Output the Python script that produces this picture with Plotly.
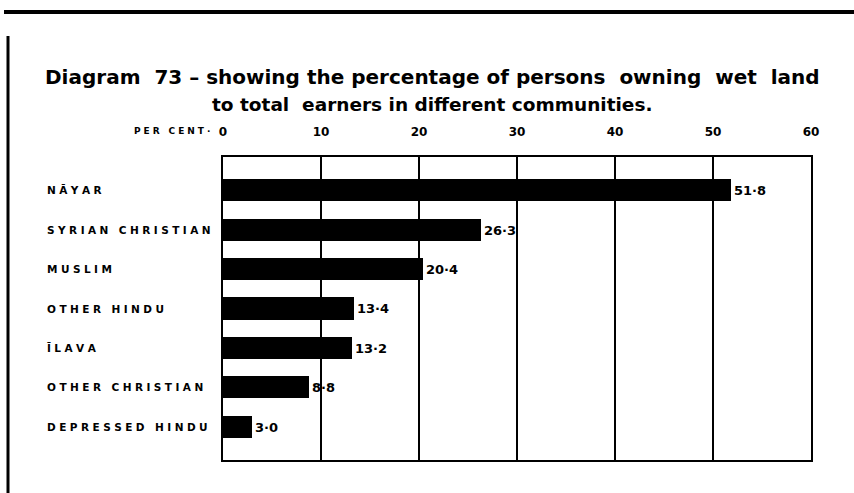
import plotly.graph_objects as go

# Communities and share of earners owning wet land (per cent)
communities = ["NĀYAR", "SYRIAN CHRISTIAN", "MUSLIM", "OTHER HINDU",
               "ĪLAVA", "OTHER CHRISTIAN", "DEPRESSED HINDU"]
percent = [51.8, 26.3, 20.4, 13.4, 13.2, 8.8, 3.0]
value_labels = ["51·8", "26·3", "20·4", "13·4", "13·2", "8·8", "3·0"]
tick_values = [0, 10, 20, 30, 40, 50, 60]
tick_labels = ["0", "10", "20", "30", "40", "50", "60"]

W, H = 854, 493
L, R, T, B = 223, 43, 157, 33
pw, ph = W - L - R, H - T - B

HEAVY = "DejaVu Sans"
WIDE = "DejaVu Sans"


def px_x(x):
    return (x - L) / pw


def px_y(y):
    return (H - B - y) / ph


def spaced(s):
    # letter-spaced capitals for the row names
    return "\u2004".join(s).replace("\u2004 \u2004", "\u2003")


fig = go.Figure()
fig.add_trace(go.Bar(
    x=percent, y=list(range(len(communities))), orientation="h",
    marker=dict(color="black", line=dict(width=0)),
    width=0.56,
    text=["<b>" + v + "</b>" for v in value_labels],
    textposition="outside", cliponaxis=False,
    textfont=dict(family=HEAVY, size=13, color="black"),
    hoverinfo="skip",
))

annotations = [
    dict(text="<b>Diagram  73 – showing the percentage of persons  owning  wet  land</b>",
         x=px_x(432), y=px_y(77), xref="paper", yref="paper", yanchor="middle",
         showarrow=False, font=dict(family=HEAVY, size=20, color="black")),
    dict(text="<b>to total  earners in different communities.</b>",
         x=px_x(432), y=px_y(104), xref="paper", yref="paper", yanchor="middle",
         showarrow=False, font=dict(family=HEAVY, size=18.5, color="black")),
    dict(text="<b>" + spaced("PER CENT·") + "</b>", x=px_x(212), y=px_y(131),
         xref="paper", yref="paper", xanchor="right", yanchor="middle",
         showarrow=False, font=dict(family=WIDE, size=9, color="black")),
]
for i, name in enumerate(communities):
    annotations.append(dict(
        text="<b>" + spaced(name) + "</b>",
        x=px_x(45), y=i, xref="paper", yref="y", xanchor="left", yanchor="middle",
        showarrow=False, font=dict(family=WIDE, size=10.5, color="black")))

shapes = [
    # heavy rule along the top of the page
    dict(type="line", xref="paper", yref="paper",
         x0=px_x(4), x1=px_x(854), y0=px_y(12), y1=px_y(12),
         line=dict(color="black", width=4)),
    # rule down the left edge
    dict(type="line", xref="paper", yref="paper",
         x0=px_x(8), x1=px_x(8), y0=px_y(36), y1=px_y(493),
         line=dict(color="black", width=3)),
]

fig.update_layout(
    width=W, height=H, margin=dict(l=L, r=R, t=T, b=B),
    paper_bgcolor="white", plot_bgcolor="white",
    showlegend=False, bargap=0,
    annotations=annotations, shapes=shapes,
    xaxis=dict(range=[0, 60], side="top", tickvals=tick_values,
               ticktext=["<b>" + t + "</b>" for t in tick_labels],
               showgrid=True, gridcolor="black", gridwidth=2,
               showline=True, linecolor="black", linewidth=2, mirror=True,
               ticks="", zeroline=False, ticklabelstandoff=14,
               tickfont=dict(family=HEAVY, size=12, color="black")),
    yaxis=dict(range=[6.84, -0.84], showticklabels=False, showgrid=False,
               showline=True, linecolor="black", linewidth=2, mirror=True,
               ticks="", zeroline=False),
)

fig.write_html("out.html")
